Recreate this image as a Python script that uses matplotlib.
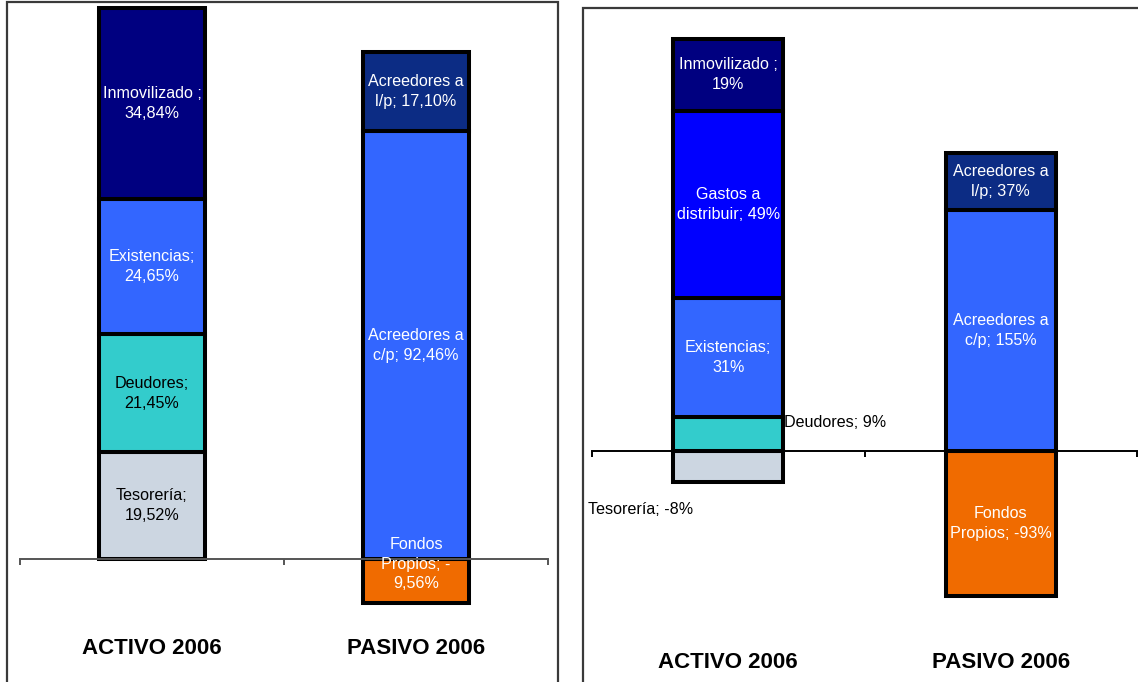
import matplotlib
matplotlib.use("Agg")
import matplotlib.pyplot as plt
from matplotlib.lines import Line2D
from matplotlib import transforms

plt.rcParams['font.family'] = ['Liberation Sans', 'DejaVu Sans']

W, H = 1138, 682
columns = ["ACTIVO 2006", "PASIVO 2006"]

# ---- 2006 balance, detailed figures (percent) ----
a1_names = ["Tesorería", "Deudores", "Existencias", "Inmovilizado"]
a1_values = [19.52, 21.45, 24.65, 34.84]
a1_templates = ["Tesorería;\n{sign}{num}", "Deudores;\n{sign}{num}",
                "Existencias;\n{sign}{num}", "Inmovilizado ;\n{sign}{num}"]
a1_colors = ["#CCD6E1", "#33CCCC", "#3366FF", "#000080"]
a1_textcolors = ["black", "black", "white", "white"]

p1_names = ["Fondos Propios", "Acreedores a c/p", "Acreedores a l/p"]
p1_values = [-9.56, 92.46, 17.10]
p1_templates = ["Fondos\nPropios; {sign}\n{num}", "Acreedores a\nc/p; {sign}{num}",
                "Acreedores a\nl/p; {sign}{num}"]
p1_colors = ["#F06B00", "#3366FF", "#0C2C84"]
p1_textcolors = ["white", "white", "white"]

# ---- 2006 balance, rounded figures (percent) ----
a2_names = ["Tesorería", "Deudores", "Existencias", "Gastos a distribuir", "Inmovilizado"]
a2_values = [-8, 9, 31, 49, 19]
a2_templates = ["Tesorería; {sign}{num}", "Deudores; {sign}{num}",
                "Existencias;\n{sign}{num}", "Gastos a\ndistribuir; {sign}{num}",
                "Inmovilizado ;\n{sign}{num}"]
a2_colors = ["#CCD6E1", "#33CCCC", "#3366FF", "#0000FF", "#000080"]
a2_textcolors = ["black", "black", "white", "white", "white"]

p2_names = ["Fondos Propios", "Acreedores a c/p", "Acreedores a l/p"]
p2_values = [-93, 155, 37]
p2_templates = ["Fondos\nPropios; {sign}{num}", "Acreedores a\nc/p; {sign}{num}",
                "Acreedores a\nl/p; {sign}{num}"]
p2_colors = ["#F06B00", "#3366FF", "#0C2C84"]
p2_textcolors = ["white", "white", "white"]


def fmt(v, decimals):
    sign = "-" if v < 0 else ""
    num = f"{abs(v):.{decimals}f}".replace(".", ",") + "%"
    return sign, num


def px(x, y):
    return x / W, 1 - y / H


fig = plt.figure(figsize=(W / 100, H / 100), dpi=100)
fig.patch.set_facecolor("white")

# panel frames
frame_kw = dict(color="#3A3A3A", lw=1.6, solid_joinstyle="miter")
fig.add_artist(Line2D(*zip(px(7, 690), px(7, 1.5), px(558, 1.5), px(558, 690)),
                      transform=fig.transFigure, **frame_kw))
fig.add_artist(Line2D(*zip(px(583, 690), px(583, 7.5), px(1145, 7.5)),
                      transform=fig.transFigure, **frame_kw))

BAR_W = 0.405


def draw_panel(ax, stacks, decimals, zero_px, px_per_pct, axis_color,
               cat_y_px, special, clip_labels=()):
    ax.set_xlim(-0.5, 1.5)
    ax.set_ylim(-(H - zero_px) / px_per_pct, zero_px / px_per_pct)
    ax.patch.set_visible(False)
    for s in ["top", "left", "right"]:
        ax.spines[s].set_visible(False)
    ax.spines["bottom"].set_position(("data", 0))
    ax.spines["bottom"].set_color(axis_color)
    ax.spines["bottom"].set_linewidth(1.4)
    ax.set_xticks([-0.5, 0.5, 1.5])
    ax.set_xticklabels([])
    ax.tick_params(axis="x", direction="out", length=4.5, width=1.4,
                   color=axis_color)
    ax.set_yticks([])

    for i, (values, templates, colors, tcolors) in enumerate(stacks):
        total = sum(abs(v) for v in values)
        pos, neg = 0.0, 0.0
        for j, v in enumerate(values):
            share = abs(v) / total * 100
            if v >= 0:
                bottom = pos
                pos += share
            else:
                neg -= share
                bottom = neg
            bar = ax.bar(i, share, bottom=bottom, width=BAR_W, color=colors[j],
                         edgecolor="black", linewidth=2.9, zorder=2)[0]
            sign, num = fmt(v, decimals)
            text = templates[j].format(sign=sign, num=num)
            x, y, ha = i, bottom + share / 2, "center"
            if (i, j) in special:
                dx, dy, ha = special[(i, j)]
                x, y = i + dx, y + dy
            t = ax.text(x, y, text, ha=ha, va="center", multialignment="center",
                        color=tcolors[j], fontsize=11.6, linespacing=1.4,
                        zorder=3)
            if (i, j) in clip_labels:
                t.set_clip_path(bar)

    trans = transforms.blended_transform_factory(ax.transData, fig.transFigure)
    for i, name in enumerate(columns):
        ax.text(i, 1 - cat_y_px / H, name, transform=trans, ha="center",
                va="center", fontsize=16, fontweight="bold", color="black")


ax1 = fig.add_axes([20 / W, 0, 528 / W, 1])
draw_panel(ax1,
           [(a1_values, a1_templates, a1_colors, a1_textcolors),
            (p1_values, p1_templates, p1_colors, p1_textcolors)],
           decimals=2, zero_px=559, px_per_pct=5.51, axis_color="#555555",
           cat_y_px=648,
           special={(1, 0): (0.0, 3.1, "center")})

ax2 = fig.add_axes([592 / W, 0, 545 / W, 1])
draw_panel(ax2,
           [(a2_values, a2_templates, a2_colors, a2_textcolors),
            (p2_values, p2_templates, p2_colors, p2_textcolors)],
           decimals=0, zero_px=451, px_per_pct=4.43, axis_color="black",
           cat_y_px=663,
           special={(0, 1): (0.205, 2.6, "left"),
                    (0, 0): (-0.32, -9.7, "center")},
           clip_labels={(1, 0)})

fig.savefig("out.png", dpi=100, facecolor="white")
